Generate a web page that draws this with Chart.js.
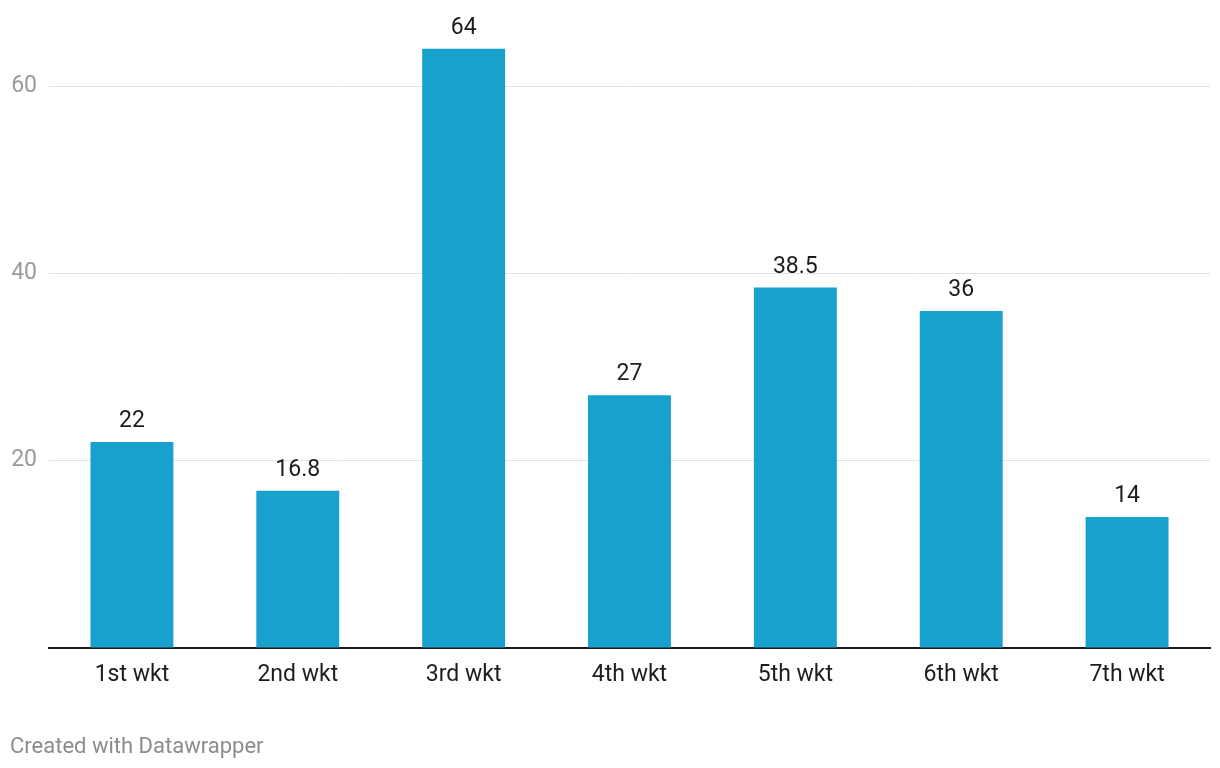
<!DOCTYPE html>
<html>
<head>
<meta charset="utf-8">
<script src="https://cdn.jsdelivr.net/npm/chart.js@4"></script>
<style>
  html, body { margin: 0; padding: 0; background: #fff; }
  #wrap { position: relative; width: 1220px; height: 768px; }
  #footer {
    position: absolute; left: 10px; top: 733px;
    font-family: Roboto, sans-serif; font-size: 22px; color: #8c8c8c;
  }
</style>
</head>
<body>
<div id="wrap">
  <canvas id="chart" width="1220" height="768"></canvas>
  <div id="footer">Created with Datawrapper</div>
</div>
<script>
// --- data ---
const categories = ["1st wkt", "2nd wkt", "3rd wkt", "4th wkt", "5th wkt", "6th wkt", "7th wkt"];
const values = [22, 16.8, 64, 27, 38.5, 36, 14];
const yTicks = [0, 20, 40, 60];

// value labels above each bar
const valueLabels = {
  id: "valueLabels",
  afterDatasetsDraw(chart) {
    const ctx = chart.ctx;
    const meta = chart.getDatasetMeta(0);
    ctx.save();
    ctx.font = "23px Roboto";
    ctx.fillStyle = "#1d1d1d";
    ctx.textAlign = "center";
    ctx.textBaseline = "alphabetic";
    meta.data.forEach((bar, i) => {
      ctx.fillText(String(values[i]), bar.x, bar.y - 15);
    });
    ctx.restore();
  },
};

const ctx = document.getElementById("chart").getContext("2d");
new Chart(ctx, {
  type: "bar",
  data: {
    labels: categories,
    datasets: [{
      data: values,
      backgroundColor: "#18a1cd",
      categoryPercentage: 1,
      barPercentage: 0.5,
    }],
  },
  options: {
    responsive: false,
    animation: false,
    layout: { padding: { top: 0, right: 10, left: 0, bottom: 0 } },
    plugins: { legend: { display: false }, tooltip: { enabled: false } },
    scales: {
      x: {
        grid: { display: false, drawTicks: false },
        border: { display: true, color: "#1a1a1a", width: 2 },
        ticks: { font: { family: "Roboto", size: 23 }, color: "#1d1d1d", padding: 13 },
        afterFit: (s) => { s.height = 120; },
      },
      y: {
        min: 0,
        max: 66.45,
        afterBuildTicks: (s) => { s.ticks = yTicks.map((v) => ({ value: v })); },
        grid: {
          color: (c) => (c.tick && c.tick.value === 0 ? "rgba(0,0,0,0)" : "#e3e3e3"),
          lineWidth: 1,
          drawTicks: false,
        },
        border: { display: false },
        ticks: {
          font: { family: "Roboto", size: 23 },
          color: "#9b9b9b",
          padding: 12,
          callback: (v) => (v === 0 ? "" : v),
        },
        afterFit: (s) => { s.width = 49; },
      },
    },
  },
  plugins: [valueLabels],
});
</script>
</body>
</html>
